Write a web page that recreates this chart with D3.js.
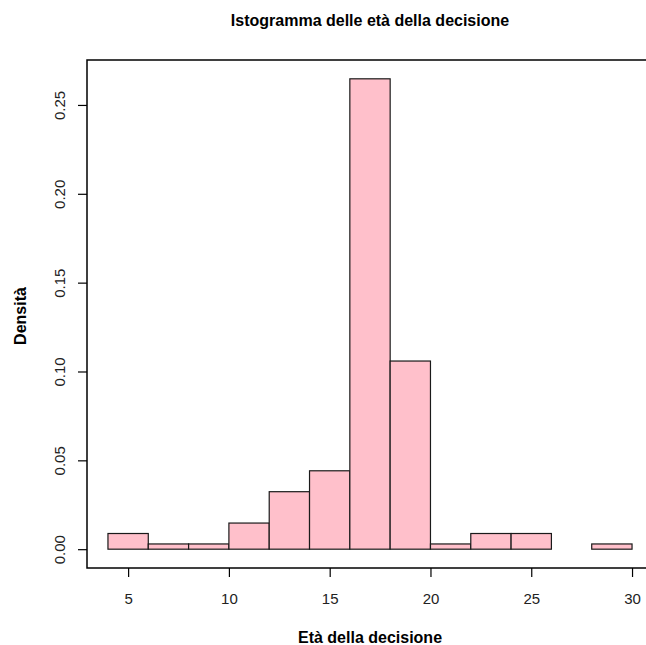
<!DOCTYPE html>
<html><head><meta charset="utf-8">
<script src="https://cdn.jsdelivr.net/npm/d3@7"></script>
<style>html,body{margin:0;padding:0;background:#fff;}svg{display:block;}</style>
</head><body>
<script>
const breaks = [4,6,8,10,12,14,16,18,20,22,24,26,28,30];
const counts = [3,1,1,5,11,15,90,36,1,3,3,0,1];
const xTicks = [5,10,15,20,25,30];
const yTicks = [0,0.05,0.10,0.15,0.20,0.25];
const title = "Istogramma delle età della decisione";
const xLabel = "Età della decisione";
const yLabel = "Densità";

const total = d3.sum(counts);
const bins = counts.map((c,i)=>({x0:breaks[i], x1:breaks[i+1], d:c/(total*(breaks[i+1]-breaks[i]))}));

const W=646,H=645;
const L=87, R=653, T=60, B=568;
const svg=d3.select("body").append("svg").attr("width",W).attr("height",H);
const xr=[breaks[0], breaks[breaks.length-1]];
const ext=(xr[1]-xr[0])*0.04;
const ymax=d3.max(bins,b=>b.d);
const x=d3.scaleLinear().domain([xr[0]-ext, xr[1]+ext]).range([L,R]);
const y=d3.scaleLinear().domain([-ymax*0.04, ymax*1.04]).range([B,T]);

svg.append("g").selectAll("rect").data(bins).join("rect")
  .attr("x",b=>x(b.x0)).attr("width",b=>x(b.x1)-x(b.x0))
  .attr("y",b=>y(b.d)).attr("height",b=>y(0)-y(b.d))
  .attr("fill","#FFC0CB").attr("stroke","#1a1a1a").attr("stroke-width",1.2);

svg.append("rect").attr("x",L).attr("y",T).attr("width",R-L).attr("height",B-T)
  .attr("fill","none").attr("stroke","#000").attr("stroke-width",1.5);

const font="Liberation Sans, Arial, sans-serif";
const xAxis=svg.append("g").attr("transform",`translate(0,${B})`)
  .call(d3.axisBottom(x).tickValues(xTicks).tickSize(9).tickPadding(16).tickFormat(d3.format("d")));
xAxis.select(".domain").remove();
xAxis.selectAll("line").attr("stroke","#000").attr("stroke-width",1.2);
xAxis.selectAll("text").attr("font-family",font).attr("font-size",15).attr("fill","#222");

const yAxis=svg.append("g").attr("transform",`translate(${L},0)`)
  .call(d3.axisLeft(y).tickValues(yTicks).tickSize(9).tickFormat(d3.format(".2f")));
yAxis.select(".domain").remove();
yAxis.selectAll("line").attr("stroke","#000").attr("stroke-width",1.2);
yAxis.selectAll("text").attr("font-family",font).attr("font-size",15).attr("fill","#222")
  .attr("x",null).attr("dy",null)
  .attr("transform","translate(-22,0) rotate(-90)").attr("text-anchor","middle");

svg.append("text").attr("x",370).attr("y",26).attr("text-anchor","middle")
  .attr("font-family",font).attr("font-weight","bold").attr("font-size",16).text(title);
svg.append("text").attr("x",370).attr("y",643).attr("text-anchor","middle")
  .attr("font-family",font).attr("font-weight","bold").attr("font-size",16).text(xLabel);
svg.append("text").attr("transform","translate(26,316) rotate(-90)").attr("text-anchor","middle")
  .attr("font-family",font).attr("font-weight","bold").attr("font-size",16).text(yLabel);
</script>
</body></html>
